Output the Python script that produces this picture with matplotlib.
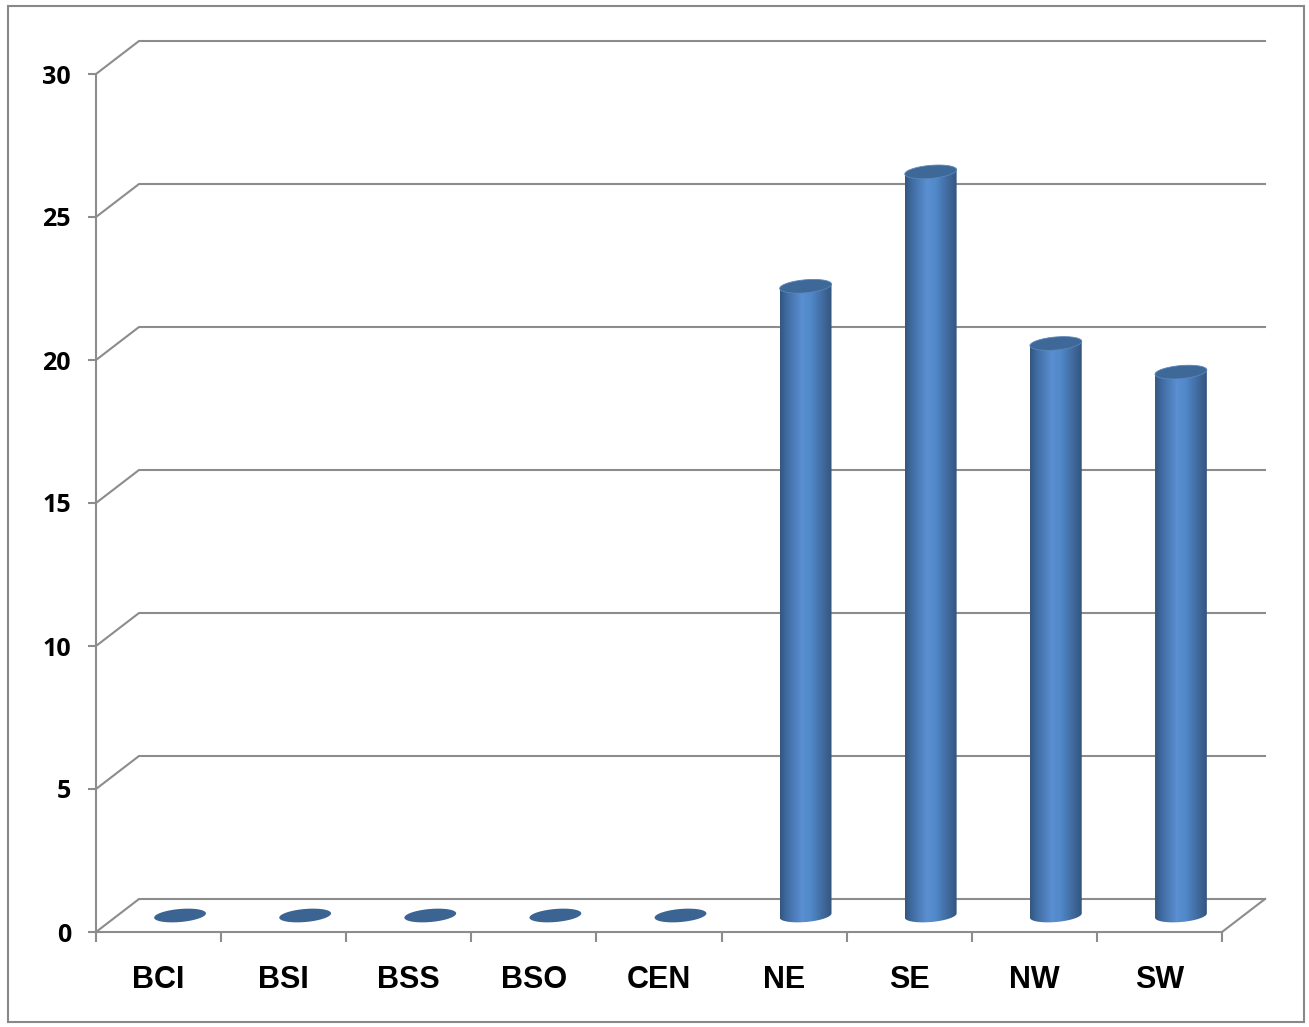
import numpy as np
import matplotlib
matplotlib.use("Agg")
import matplotlib.pyplot as plt
from matplotlib.patches import Polygon, Rectangle
from matplotlib.colors import to_rgb

categories = ["BCI", "BSI", "BSS", "BSO", "CEN", "NE", "SE", "NW", "SW"]
values = [0, 0, 0, 0, 0, 22, 26, 20, 19]
yticks = [0, 5, 10, 15, 20, 25, 30]

W, H = 1309, 1027
fig = plt.figure(figsize=(W / 100, H / 100), dpi=100)

# front plane of the chart box, in pixels
left_px, bottom_px, right_px, top_px = 96, 932, 1222, 74
ax = fig.add_axes([left_px / W, (H - bottom_px) / H,
                   (right_px - left_px) / W, (bottom_px - top_px) / H])
n = len(categories)
ax.set_xlim(0, n)
ax.set_ylim(0, 30)

px_x = (right_px - left_px) / n      # pixels per category
px_v = (bottom_px - top_px) / 30     # pixels per value unit
dep_x = 43 / px_x                    # depth offset
dep_v = 33 / px_v

grid_c = "#8c8c8c"
for s in ["top", "right"]:
    ax.spines[s].set_visible(False)
for s in ["left", "bottom"]:
    ax.spines[s].set_color(grid_c)
    ax.spines[s].set_linewidth(1.5)

ax.set_yticks(yticks)
ax.set_yticklabels([str(t) for t in yticks], fontfamily="Open Sans",
                   fontweight="bold", fontsize=18)
ax.tick_params(axis="y", length=6, width=1.5, color=grid_c, pad=12)
ax.set_xticks(np.arange(n + 1))
ax.set_xticklabels([])
ax.tick_params(axis="x", which="major", length=7, width=1.5, color=grid_c)
ax.set_xticks(np.arange(n) + 0.5, minor=True)
ax.set_xticklabels(categories, minor=True, fontfamily="Liberation Sans",
                   fontweight="bold", fontsize=22)
ax.tick_params(axis="x", which="minor", length=0, pad=24)

# back wall gridlines and floor
for t in yticks:
    ax.plot([0, dep_x, n + dep_x], [t, t + dep_v, t + dep_v],
            color=grid_c, lw=1.5, clip_on=False, zorder=1)
ax.plot([n, n + dep_x], [0, dep_v], color=grid_c, lw=1.5,
        clip_on=False, zorder=1)

a_px, b_px, tilt = 26, 6.5, np.deg2rad(5)


def ell_pts(cx, cv, t):
    ex = a_px * np.cos(t) * np.cos(tilt) - b_px * np.sin(t) * np.sin(tilt)
    ev = a_px * np.cos(t) * np.sin(tilt) + b_px * np.sin(t) * np.cos(tilt)
    return np.column_stack([cx + ex / px_x, cv + ev / px_v])


stops = [(0.0, "#33567f"), (0.12, "#3f6aa0"), (0.42, "#5a8fd2"),
         (0.6, "#5088c8"), (0.85, "#3f679a"), (1.0, "#34567f")]
xs = np.linspace(0, 1, 200)
grad = np.zeros((1, 200, 3))
for ch in range(3):
    grad[0, :, ch] = np.interp(xs, [s[0] for s in stops],
                               [to_rgb(s[1])[ch] for s in stops])

for i, val in enumerate(values):
    cx = i + 0.5 + dep_x / 2
    base_v = dep_v / 2
    top_v = val + dep_v / 2
    full = np.linspace(0, 2 * np.pi, 120)
    if val > 0:
        lower = ell_pts(cx, base_v, np.linspace(np.pi, 2 * np.pi, 60))
        tl = ell_pts(cx, top_v, np.array([np.pi]))
        tr = ell_pts(cx, top_v, np.array([0.0]))
        body = np.vstack([tl, lower, tr])
        clip = Polygon(body, closed=True, transform=ax.transData,
                       facecolor="none", edgecolor="none")
        ax.add_patch(clip)
        hw = a_px / px_x
        im = ax.imshow(grad, extent=[cx - hw, cx + hw, base_v - 10 / px_v,
                                     top_v + 10 / px_v],
                       aspect="auto", interpolation="bilinear", zorder=3,
                       clip_on=True)
        im.set_clip_path(clip)
        ax.add_patch(Polygon(ell_pts(cx, top_v, full), closed=True,
                             facecolor="#3e6898", edgecolor="#5a86bd",
                             lw=0.6, zorder=4, clip_on=False))
    else:
        ax.add_patch(Polygon(ell_pts(cx, top_v, full), closed=True,
                             facecolor="#3b6493", edgecolor="none",
                             zorder=4, clip_on=False))

ax.set_xlim(0, n)
ax.set_ylim(0, 30)
ax.set_facecolor("none")

# outer chart border
fig.patches.append(Rectangle((8 / W, 5 / H), 1296 / W, 1016 / H,
                             transform=fig.transFigure, fill=False,
                             edgecolor="#888888", lw=1.5))

fig.savefig("out.png", dpi=100)
